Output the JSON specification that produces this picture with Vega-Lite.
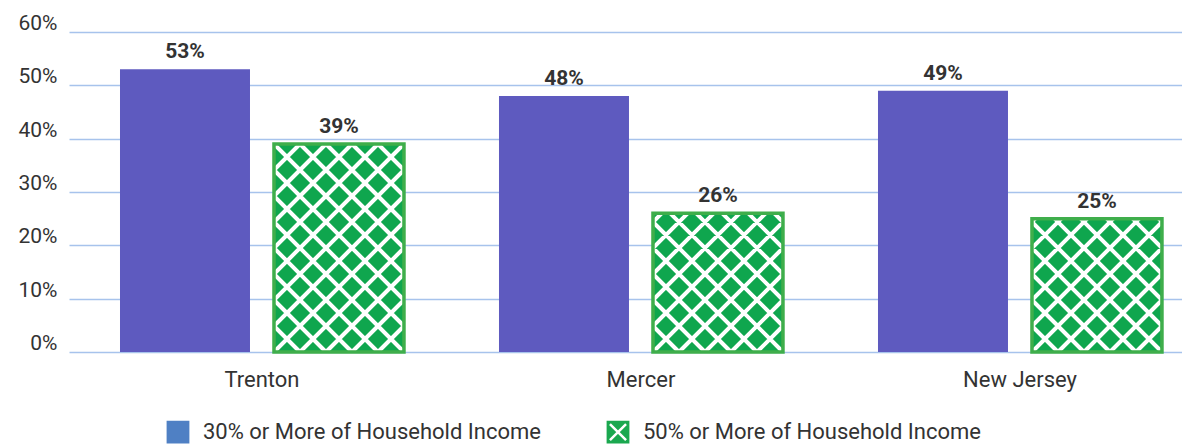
{
  "$schema": "https://vega.github.io/schema/vega-lite/v6.json",
  "width": 1113,
  "height": 320,
  "autosize": "none",
  "padding": {"left": 69, "top": 32, "right": 0, "bottom": 93},
  "background": "white",
  "config": {
    "view": {"stroke": null},
    "font": "Roboto",
    "axis": {"labelFont": "Roboto", "labelColor": "#333333"}
  },
  "data": {
    "values": [
      {"region": "Trenton", "series": "30% or More of Household Income", "value": 0.53},
      {"region": "Trenton", "series": "50% or More of Household Income", "value": 0.39},
      {"region": "Mercer", "series": "30% or More of Household Income", "value": 0.48},
      {"region": "Mercer", "series": "50% or More of Household Income", "value": 0.26},
      {"region": "New Jersey", "series": "30% or More of Household Income", "value": 0.49},
      {"region": "New Jersey", "series": "50% or More of Household Income", "value": 0.25}
    ]
  },
  "encoding": {
    "x": {
      "field": "region", "type": "nominal", "sort": null,
      "scale": {"type": "band", "paddingInner": 0.2507, "paddingOuter": 0.0937, "align": 0.718},
      "axis": {"title": null, "domain": false, "ticks": false, "grid": false, "labelFontSize": 22, "labelPadding": 17, "labelAngle": 0}
    },
    "xOffset": {
      "field": "series", "type": "nominal", "sort": null,
      "scale": {"paddingInner": 0.1558, "paddingOuter": 0}
    }
  },
  "layer": [
    {
      "mark": {"type": "bar"},
      "encoding": {
        "y": {
          "field": "value", "type": "quantitative",
          "scale": {"domain": [0, 0.6], "nice": false},
          "axis": {
            "title": null, "format": ".0%", "values": [0, 0.1, 0.2, 0.3, 0.4, 0.5, 0.6],
            "domain": false, "ticks": false, "grid": true, "gridColor": "#a7c3ec", "gridWidth": 1.5,
            "labelFontSize": 21, "labelPadding": 12, "labelBaseline": "alphabetic", "labelOffset": -2.5
          }
        },
        "fill": {
          "condition": {"test": "datum.series === '30% or More of Household Income'", "value": "#5e5abf"},
          "value": "#0fa64e"
        }
      }
    },
    {
      "transform": [{"filter": "datum.series === '50% or More of Household Income'"}],
      "mark": {"type": "point", "filled": false, "size": 4, "stroke": "white", "strokeWidth": 4, "opacity": 1},
      "encoding": {
        "y": {"datum": 0, "type": "quantitative"},
        "shape": {
          "field": "region", "type": "nominal",
          "scale": {
            "domain": ["Trenton", "Mercer", "New Jersey"],
            "range": [
              "M-65,-182L-39,-208 M-65,-156L-13,-208 M-65,-130L13,-208 M-65,-104L39,-208 M-65,-78L65,-208 M-65,-52L65,-182 M-65,-26L65,-156 M-65,0L65,-130 M-39,0L65,-104 M-13,0L65,-78 M13,0L65,-52 M39,0L65,-26 M-65,-26L-39,0 M-65,-52L-13,0 M-65,-78L13,0 M-65,-104L39,0 M-65,-130L65,0 M-65,-156L65,-26 M-65,-182L65,-52 M-65,-208L65,-78 M-39,-208L65,-104 M-13,-208L65,-130 M13,-208L65,-156 M39,-208L65,-182",
              "M-65,-130L-56.33,-138.67 M-65,-104L-30.33,-138.67 M-65,-78L-4.33,-138.67 M-65,-52L21.67,-138.67 M-65,-26L47.67,-138.67 M-65,0L65,-130 M-39,0L65,-104 M-13,0L65,-78 M13,0L65,-52 M39,0L65,-26 M-65,-26L-39,0 M-65,-52L-13,0 M-65,-78L13,0 M-65,-104L39,0 M-65,-130L65,0 M-47.67,-138.67L65,-26 M-21.67,-138.67L65,-52 M4.33,-138.67L65,-78 M30.33,-138.67L65,-104 M56.33,-138.67L65,-130",
              "M-65,-130L-61.67,-133.33 M-65,-104L-35.67,-133.33 M-65,-78L-9.67,-133.33 M-65,-52L16.33,-133.33 M-65,-26L42.33,-133.33 M-65,0L65,-130 M-39,0L65,-104 M-13,0L65,-78 M13,0L65,-52 M39,0L65,-26 M-65,-26L-39,0 M-65,-52L-13,0 M-65,-78L13,0 M-65,-104L39,0 M-65,-130L65,0 M-42.33,-133.33L65,-26 M-16.33,-133.33L65,-52 M9.67,-133.33L65,-78 M35.67,-133.33L65,-104 M61.67,-133.33L65,-130"
            ]
          },
          "legend": null
        }
      }
    },
    {
      "transform": [{"filter": "datum.series === '50% or More of Household Income'"}],
      "mark": {"type": "bar", "filled": false, "stroke": "#3fae4b", "strokeWidth": 3.5},
      "encoding": {
        "y": {"field": "value", "type": "quantitative"}
      }
    },
    {
      "mark": {"type": "text", "fontWeight": "bold", "fontSize": 21, "color": "#333333", "baseline": "alphabetic", "dy": -11, "font": "Roboto"},
      "encoding": {
        "y": {"field": "value", "type": "quantitative"},
        "text": {"field": "value", "type": "quantitative", "format": ".0%"}
      }
    },
    {
      "mark": {"type": "point", "filled": true, "size": 0, "opacity": 0},
      "encoding": {
        "y": {"field": "value", "type": "quantitative"},
        "fill": {
          "field": "series", "type": "nominal", "sort": null,
          "scale": {"range": ["#4f80c4", "#1aa84f"]},
          "legend": {
            "title": null, "orient": "none", "legendX": 96, "legendY": 387, "direction": "horizontal",
            "symbolSize": 529, "symbolStrokeWidth": 2.5, "symbolStrokeColor": "white", "symbolOpacity": 1,
            "labelFontSize": 22, "labelFont": "Roboto", "labelColor": "#333333", "labelOffset": 12, "labelLimit": 0,
            "columnPadding": 59, "padding": 0,
            "encode": {
              "symbols": {
                "update": {
                  "shape": {"signal": "datum.index === 1 ? 'M-1.1,-1.1H1.1V1.1H-1.1Z M-0.7,-0.7L0.7,0.7 M-0.7,0.7L0.7,-0.7' : 'M-1.1,-1.1H1.1V1.1H-1.1Z'"},
                  "size": {"value": 529},
                  "stroke": {"value": "white"},
                  "strokeWidth": {"value": 2.5},
                  "opacity": {"value": 1},
                  "fillOpacity": {"value": 1}
                }
              }
            }
          }
        }
      }
    }
  ]
}
